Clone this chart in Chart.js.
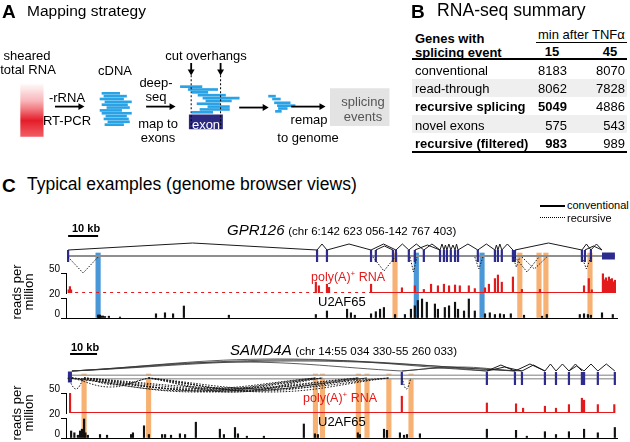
<!DOCTYPE html>
<html>
<head>
<meta charset="utf-8">
<script src="https://cdn.jsdelivr.net/npm/chart.js@4.4.1/dist/chart.umd.min.js"></script>
<style>
  body { margin: 0; background: #fff; }
  #fig { position: relative; width: 630px; height: 442px; overflow: hidden;
         font-family: "Liberation Sans", Arial, sans-serif; color: #000; font-size: 13px; }
  .t { position: absolute; white-space: nowrap; line-height: 1; transform: translateY(-50%); }
  .c { transform: translate(-50%, -50%); text-align: center; }
  .r { transform: translate(-100%, -50%); }
  .b { font-weight: bold; }
  canvas { position: absolute; }
  .hl { position: absolute; background: #000; }
</style>
</head>
<body>
<div id="fig">
  <canvas id="cA" width="400" height="160" style="left:0;top:0"></canvas>
  <canvas id="cGpr" width="598" height="98" style="left:32px;top:222px"></canvas>
  <canvas id="cSam" width="598" height="98" style="left:32px;top:342px"></canvas>

  <!-- panel titles -->
  <div class="t b" style="left:2px;top:11px;font-size:19px">A</div>
  <div class="t" style="left:27px;top:11px;font-size:15.5px">Mapping strategy</div>
  <div class="t b" style="left:411px;top:11px;font-size:19px">B</div>
  <div class="t" style="left:437px;top:11px;font-size:17.6px">RNA-seq summary</div>
  <div class="t b" style="left:2px;top:185px;font-size:19px">C</div>
  <div class="t" style="left:27px;top:185px;font-size:17.5px">Typical examples (genome browser views)</div>

  <!-- panel A labels -->
  <div class="t c" style="left:27px;top:55px">sheared</div>
  <div class="t c" style="left:28px;top:69px">total RNA</div>
  <div class="t c" style="left:115px;top:70px">cDNA</div>
  <div class="t c" style="left:67px;top:97px">-rRNA</div>
  <div class="t c" style="left:67px;top:120px">RT-PCR</div>
  <div class="t c" style="left:156px;top:82px">deep-</div>
  <div class="t c" style="left:156px;top:96px">seq</div>
  <div class="t c" style="left:158px;top:123px">map to</div>
  <div class="t c" style="left:158px;top:137px">exons</div>
  <div class="t c" style="left:206px;top:55px">cut overhangs</div>
  <div class="t c" style="left:206px;top:124px;color:#fff">exon</div>
  <div class="t c" style="left:309px;top:119px">remap</div>
  <div class="t c" style="left:308px;top:137px">to genome</div>
  <div class="t c" style="left:363px;top:101px;color:#555">splicing</div>
  <div class="t c" style="left:363px;top:116px;color:#555">events</div>

  <!-- panel B table -->
  <div id="tbl"></div>

  <!-- panel C labels -->
  <div class="hl" style="left:540px;top:205px;width:25px;height:1.5px"></div>
  <div class="t" style="left:567px;top:205px;font-size:11px">conventional</div>
  <div style="position:absolute;left:540px;top:217px;width:25px;border-top:1.5px dotted #000"></div>
  <div class="t" style="left:567px;top:218px;font-size:11px">recursive</div>

  <div class="t b" style="left:72px;top:228px;font-size:11px">10 kb</div>
  <div class="t" style="left:227px;top:230px"><i style="font-size:15px">GPR126</i> <span style="font-size:11.5px">(chr 6:142 623 056-142 767 403)</span></div>
  <div class="t c" style="left:23px;top:292px;line-height:12px;transform:translate(-50%,-50%) rotate(-90deg)">reads per<br>million</div>
  <div class="t" style="left:311px;top:277px;color:#e31a1c;font-size:12.5px">poly(A)<sup style="font-size:8px;line-height:0">+</sup> RNA</div>
  <div class="t" style="left:318px;top:301px">U2AF65</div>

  <div class="t b" style="left:71px;top:347px;font-size:11px">10 kb</div>
  <div class="t" style="left:230px;top:350px"><i style="font-size:15px">SAMD4A</i> <span style="font-size:11.5px">(chr 14:55 034 330-55 260 033)</span></div>
  <div class="t c" style="left:23px;top:413px;line-height:12px;transform:translate(-50%,-50%) rotate(-90deg)">reads per<br>million</div>
  <div class="t" style="left:303px;top:398px;color:#e31a1c;font-size:12.5px">poly(A)<sup style="font-size:8px;line-height:0">+</sup> RNA</div>
  <div class="t" style="left:318px;top:421px">U2AF65</div>
</div>

<script>
// ---------- panel A schematic (units = pixels of the panel) ----------
const cdnaReads = [[94,100,118],[97,102,125],[100,98,122],[103,103,130],[106,100,126],[109,105,128],
                   [112,98,120],[115,100,130],[118,104,125],[121,102,127],[124,106,128],[127,103,122]];
const mappedReads = [[87,180,202],[90,188,218],[93,192,208],[96,198,226],[99,203,240],[102,206,232],
                     [105,197,220],[108,208,230],[111,200,230],[114,192,213]];
const remapReads = [[97,270,277],[100,274,282],[104,276,292],[107,279,297],[110,280,289],[113,277,283]];
const flowArrows = [[52,108,78,108],[145,108,171,108],[240,109,266,109],[293,108,324,108]];
const cutArrows = [[191,62,191,71],[221,62,221,71]];
const cutLines = [191, 221];
const rnaBox = [17, 40, 83, 138];      // x0, x1, y0, y1
const exonBox = [189, 223, 117, 131];
const eventBox = [333, 393, 90, 127];

// ---------- panel B table ----------
const tableRows = ['conventional', 'read-through', 'recursive splicing', 'novel exons', 'recursive (filtered)'];
const min15 = [8183, 8062, 5049, 575, 983];
const min45 = [8070, 7828, 4886, 543, 989];
const boldRows = [false, false, true, false, true];

// ---------- panel C: GPR126 (kb from track start) ----------
const gprExons = [0.7, 83.7, 87, 101.7, 103.3, 109, 110, 114.3, 116.3, 119.3, 124.7, 126, 127, 128.3,
                  129.7, 130.7, 137.3, 143, 144, 145.3, 149, 149.7, 172, 173, 175];
const gprUtr = [[178.7, 183, 7]];
const gprConv = [[0.7,83.7,13],[83.7,87,12],[87,101.7,12],[101.7,110,12],[103.3,109,10],[110,114.3,12],
                 [114.3,119.3,12],[116.3,124.7,11],[119.3,124.7,12],[124.7,126,12],[126,127,11],[127,128.3,12],
                 [128.3,129.7,11],[129.7,130.7,12],[130.7,137.3,12],[137.3,143,12],[143,144,11],[144,145.3,12],
                 [145.3,149,12],[149.7,172,13],[172,175,12],[173,178.7,10],[175,178.7,12]];
const gprRec = [[0.7,10.7,-17],[102.3,109.7,-15],[114.7,117,-16],[136.3,139,-13],[149,151.3,-11],
                [149.7,157.7,-16],[152,160.3,-13],[172,175,-13]];
const gprBlue = [10.7, 116.8, 138.7];
const gprOrange = [109.7, 151.3, 157.7, 160, 174.7];
const gprPolyA = [[0.9,8],[1.3,16],[1.7,8],[83.3,27],[84.3,18],[87,22],[87.7,14],[101.7,22],[112,13],
                  [116.3,18],[119.3,9],[121.7,22],[124,18],[126,22],[127.7,18],[129.7,20],[131.3,18],
                  [134.3,18],[136.3,11],[139.7,13],[141,22],[143,36],[144,45],[145.3,27],[149,40],[152,9],
                  [158,9],[172.7,18],[174.3,36],[175.3,8],[179,48],[179.5,33],[180,38],[180.5,30],
                  [181,40],[181.5,34],[182,36],[182.5,28],[183,32]];
const gprPolyABase = [[0.7, 101.7, true], [101.7, 183, false]];
const gprU2af = [[10.7,3],[11,2.5],[11.3,3],[11.7,2],[12.3,2],[13,1.5],[14.3,1.8],[18,1],[30,4.2],[33,5.2],
                 [35.7,4.2],[39.3,12],[54.3,2.8],[83.3,3.5],[87,7],[93.7,8.8],[95,5.2],[96.3,2.8],[101.7,4.2],
                 [103.3,6.3],[104.7,8.8],[106,10.5],[109.7,3.5],[113,3.5],[115,8.8],[116.3,12.2],[117.3,17.5],
                 [118.7,19],[120.3,15.8],[123,14],[124,8.8],[126.3,10.5],[127.7,12.2],[129.7,15.8],[130.7,8.8],
                 [132.7,7],[134.3,19],[136.3,7],[139.7,4.2],[141.3,5.2],[143,3.5],[144.7,4.2],[146,3.5],
                 [148.3,4.2],[152.7,2.8],[158.7,1.8],[160.3,3.5],[171.3,3.5],[172.7,4.2],[174,3.5],[175,2.8],
                 [178.7,5.2],[182.3,3.5]];

// ---------- panel C: SAMD4A ----------
const samExons = [124.4, 155.9, 166.3, 168.9, 177.4, 181.5, 186.3, 191.1, 191.9, 197, 203.3];
const samUtr = [[0.7, 2.2, 11]];
const samLongConv = [[2.2,124.4,15],[2.2,155.9,18],[2.2,166.3,17],[2.2,168.9,16],[124.4,155.9,9],[124.4,166.3,10]];
const samConv = [[155.9,166.3,12],[155.9,168.9,10],[166.3,177.4,13],[168.9,177.4,12],[177.4,181.5,13],
                 [181.5,186.3,13],[186.3,191.1,13],[186.3,191.9,11],[191.9,197,13],[197,203.3,13]];
const samRec = [[0.7,6.7,-12],[2.2,30.6,-10],[6.7,30.6,-8],[2.2,92.4,-12],[6.7,95,-13],[30.6,92.4,-15],
                [30.6,95,-14],[30.6,108.3,-13],[30.6,111.5,-14],[30.6,119.6,-12],[6.7,119.6,-11],
                [0.7,92.4,-14],[2.2,108.3,-14],[6.7,111.5,-15],[2.2,95,-15],[30.6,119.6,-15],[6.7,108.3,-12],
                [124.4,127.8,-12]];
const samOrange = [6.7, 30.6, 92.4, 95, 108.3, 111.5, 119.6, 127.8];
const samPolyA = [[1.5,50],[124.4,42],[155.9,25],[166.7,23],[169.3,12],[177.4,17],[181.5,12],[186.3,21],
                  [191.1,37],[191.9,32],[197,21],[203.1,21]];
const samPolyABase = [[1.5, 203, false]];
const samU2af = [[1.9,7],[3.1,5.2],[4.4,2.8],[5.2,7],[5.9,8.8],[6.7,19],[7.2,5.2],[8.1,2.8],[12.6,3.5],
                 [15.2,2.8],[24.1,3.5],[24.8,5.2],[28.9,12.2],[30.7,3.5],[35.6,3.5],[36.7,3.5],[38.9,2.8],
                 [42.2,4.2],[44.1,3.5],[48.1,15.8],[57,8.8],[58.5,3.5],[62.6,10.5],[63.7,4.2],[67,1.8],
                 [73.3,1.8],[88.1,14],[92.2,4.2],[93.3,3.5],[108.1,5.2],[108.9,3.5],[117.8,8.8],[118.9,7.7],
                 [123.7,5.2],[125.2,2.8],[126.3,3.5],[131.1,4.2],[155.9,8.8],[166.7,7.7],[170.7,1.8],
                 [177.4,6.3],[181.5,3.5],[186.3,6.3],[191.9,8.8],[197,5.2],[203.3,10.5]];

const NAVY = '#2d2b8e', RED = '#e31a1c', ORANGE = '#f7b273', BLUE = '#4a97d8', READ = '#2aa3e6';

// ---------- table ----------
(function buildTable() {
  const el = document.getElementById('tbl');
  let h = '';
  const add = (cls, style, txt) => { h += `<div class="${cls}" style="${style}">${txt}</div>`; };
  add('t b', 'left:415px;top:38px', 'Genes with');
  add('t b', 'left:415px;top:52px', 'splicing event');
  add('t', 'left:538px;top:34px', 'min after TNFα');
  add('hl', 'left:536px;top:42px;width:91px;height:1px', '');
  add('t c b', 'left:552px;top:51px', '15');
  add('t c b', 'left:610px;top:51px', '45');
  add('hl', 'left:412px;top:58px;width:215px;height:2px', '');
  add('hl', 'left:412px;top:79px;width:215px;height:18px;background:#efefef', '');
  add('hl', 'left:412px;top:115px;width:215px;height:18px;background:#efefef', '');
  tableRows.forEach((name, i) => {
    const y = 70 + i * 18.2;
    const bw = boldRows[i] ? ' b' : '';
    add('t' + bw, `left:415px;top:${y}px`, name);
    add('t r' + bw, `left:567px;top:${y}px`, min15[i]);
    add('t r', `left:625px;top:${y}px`, min45[i]);
  });
  add('hl', 'left:412px;top:151px;width:215px;height:2px', '');
  el.innerHTML = h;
})();

const common = {
  responsive: false, animation: false, events: [],
  plugins: { legend: { display: false }, tooltip: { enabled: false } }
};

// ---------- panel A chart ----------
(function panelA() {
  const hbar = (rows, color, thick) => ({
    type: 'bar', data: rows.map(([y, a, b]) => ({ y, x: [a, b] })),
    backgroundColor: color, barThickness: thick, stack: 'all', order: 2
  });
  const box = (b, color, order) => ({
    type: 'bar', data: [{ y: (b[2] + b[3]) / 2, x: [b[0], b[1]] }],
    backgroundColor: color, barThickness: b[3] - b[2], stack: 'all', order
  });
  const arrow = ([x0, y0, x1, y1], rot) => ({
    type: 'line', indexAxis: 'x', data: [{ x: x0, y: y0 }, { x: x1, y: y1 }],
    borderColor: '#000', borderWidth: 1.8, pointRadius: [0, 4], pointStyle: 'triangle',
    rotation: rot, pointBackgroundColor: '#000', pointBorderWidth: 0, order: 1
  });
  const datasets = [
    hbar(cdnaReads, READ, 2),
    hbar(mappedReads, READ, 2),
    hbar(remapReads, READ, 2),
    ...flowArrows.map(a => arrow(a, 90)),
    ...cutArrows.map(a => arrow(a, 180)),
    ...cutLines.map(x => ({
      type: 'line', indexAxis: 'x', data: [{ x, y: 75 }, { x, y: 131 }],
      borderColor: '#000', borderWidth: 1, borderDash: [2, 2], pointRadius: 0, order: 1
    })),
    box(exonBox, '#2b2a80', 3),
    box(eventBox, '#e3e3e3', 3),
    Object.assign(box(rnaBox, 'red', 3), {
      backgroundColor: c => {
        const ch = c.chart;
        if (!ch.chartArea) return 'rgba(230,30,40,0.6)';
        const y = ch.scales.y;
        const g = ch.ctx.createLinearGradient(0, y.getPixelForValue(rnaBox[2]), 0, y.getPixelForValue(rnaBox[3]));
        g.addColorStop(0, 'rgba(236,40,50,0)');
        g.addColorStop(0.35, 'rgba(236,40,50,0.35)');
        g.addColorStop(0.72, 'rgba(226,16,28,0.95)');
        g.addColorStop(1, 'rgba(236,45,55,0.8)');
        return g;
      }
    })
  ];
  new Chart(document.getElementById('cA'), {
    type: 'bar', data: { datasets },
    options: {
      ...common, indexAxis: 'y', layout: { padding: 0 },
      scales: {
        x: { type: 'linear', min: 0, max: 400, display: false, offset: false, stacked: false },
        y: { type: 'linear', min: 0, max: 160, reverse: true, display: false, offset: false }
      }
    }
  });
})();

// ---------- panel C charts ----------
function arcData(arcs, base) {
  const pts = [];
  arcs.forEach(([a, b, h]) => {
    pts.push({ x: a, y: base }, { x: (a + b) / 2, y: h }, { x: b, y: base }, { x: b, y: null });
  });
  return pts;
}

function tickData(xs, lo, hi) {
  const pts = [];
  xs.forEach(x => pts.push({ x, y: lo }, { x, y: hi }, { x, y: null }));
  return pts;
}

function fitAxis(s) { s.width = 34; s.paddingTop = 0; s.paddingBottom = 0; }

function geneChart(id, g) {
  const line = (data, extra) => Object.assign({
    type: 'line', data, yAxisID: 'yGene', pointRadius: 0, spanGaps: false, fill: false,
    borderColor: '#1a1a1a', borderWidth: 1, tension: 0, order: 1, clip: false
  }, extra);
  const bar = (data, color, thick, axis, order) => ({
    type: 'bar', data, backgroundColor: color, barThickness: thick, stack: 'all', yAxisID: axis, order
  });
  // highlight columns run through every track of the stack
  const trackSpans = [['yGene', [3, g.geneRange[0]]], ['yRed', [0, 50]], ['yGap', [0, 1]], ['yBlack', [0, 20]]];
  const highlight = (xs, color) => trackSpans.map(([axis, span]) =>
    bar(xs.map(x => ({ x, y: span })), color, 4.5, axis, 10));

  const datasets = [
    line(arcData(g.conv, 6), {}),
    line(arcData(g.longConv, 6), { tension: 0.4, borderWidth: 0.8, borderColor: '#333' }),
    line(arcData(g.rec, -1), { borderDash: [1.5, 1.5], tension: g.recTension }),
    line([{ x: g.scaleBar[0], y: g.scaleY }, { x: g.scaleBar[1], y: g.scaleY }], { borderColor: '#000', borderWidth: 2 }),
    line(tickData(g.exons, -g.exonH[0], g.exonH[1]), { borderColor: NAVY, borderWidth: 2.2, borderCapStyle: 'butt', order: 2 }),
    ...g.utr.map(([a, b, w]) => line([{ x: a, y: 0 }, { x: b, y: 0 }], { borderColor: NAVY, borderWidth: w, borderCapStyle: 'butt', order: 2 })),
    line([{ x: g.span[0], y: 0 }, { x: g.span[1], y: 0 }], { borderColor: g.lineColor, borderWidth: g.lineW, order: 4 }),
    bar(g.polyA.map(([x, v]) => ({ x, y: v })), RED, 1.5, 'yRed', 5),
    ...g.polyABase.map(([a, b, dashed]) => ({
      type: 'line', yAxisID: 'yRed', data: [{ x: a, y: 1 }, { x: b, y: 1 }], pointRadius: 0,
      borderColor: RED, borderWidth: 1.2, borderDash: dashed ? [3, 4] : [], order: 5
    })),
    bar(g.u2af.map(([x, v]) => ({ x, y: v })), '#111', 1.5, 'yBlack', 5),
    ...highlight(g.orange, ORANGE),
    ...highlight(g.blue, BLUE)
  ];
  if (g.innerLine) {
    datasets.push(line([{ x: g.span[0], y: 0 }, { x: g.span[1], y: 0 }], { borderColor: '#fff', borderWidth: 2, order: 3 }));
  }
  const plain = {
    position: 'left', stack: 'trk', stacked: false, ticks: { display: false },
    grid: { display: false }, border: { display: false }, afterFit: fitAxis
  };
  const tickAxis = (vals) => ({
    position: 'left', stack: 'trk', stacked: false, afterFit: fitAxis,
    afterBuildTicks: s => { s.ticks = vals.map(value => ({ value })); },
    ticks: { color: '#000', font: { size: 10, family: '"Liberation Sans", Arial' }, padding: 1,
             labelOffset: -4, autoSkip: false },
    grid: { drawOnChartArea: false, drawTicks: true, tickLength: 5, color: '#000', lineWidth: 1 },
    border: { display: true, color: '#000', width: 1 }
  });
  new Chart(document.getElementById(id), {
    type: 'bar', data: { datasets },
    options: {
      ...common,
      layout: { padding: { left: 0, right: 13, top: 0, bottom: 2 } },
      scales: {
        x: {
          type: 'linear', min: 0, max: g.xMax, offset: false,
          ticks: { display: false }, grid: { display: false, drawTicks: false },
          border: { display: true, color: '#000', width: 1 },
          afterFit: s => { s.height = 0; s.paddingLeft = 0; s.paddingRight = 0; }
        },
        yGene: { ...plain, weight: 4, stackWeight: 51, min: g.geneRange[0], max: g.geneRange[1] },
        yRed: { ...tickAxis([50]), weight: 3, stackWeight: 20, min: 0, max: 50 },
        yGap: { ...plain, weight: 2, stackWeight: 5, min: 0, max: 1 },
        yBlack: { ...tickAxis([0, 20]), weight: 1, stackWeight: 20, min: 0, max: 20 }
      }
    }
  });
}

geneChart('cGpr', {
  xMax: 183.7, geneRange: [-17, 34], span: [0.7, 183], lineW: 2, lineColor: '#8f8f8f',
  exons: gprExons, exonH: [6, 6], utr: gprUtr, conv: gprConv, longConv: [], rec: gprRec, recTension: 0,
  scaleBar: [0.7, 10.7], scaleY: 20,
  polyA: gprPolyA, polyABase: gprPolyABase, u2af: gprU2af, orange: gprOrange, blue: gprBlue
});

geneChart('cSam', {
  xMax: 204.1, geneRange: [-16, 35], span: [0.7, 203.3], lineW: 5, lineColor: '#a8a8a8', innerLine: true,
  exons: samExons, exonH: [8, 5], utr: samUtr, conv: samConv, longConv: samLongConv, rec: samRec, recTension: 0.4,
  scaleBar: [1.5, 11.5], scaleY: 23,
  polyA: samPolyA, polyABase: samPolyABase, u2af: samU2af, orange: samOrange, blue: []
});
</script>
</body>
</html>
